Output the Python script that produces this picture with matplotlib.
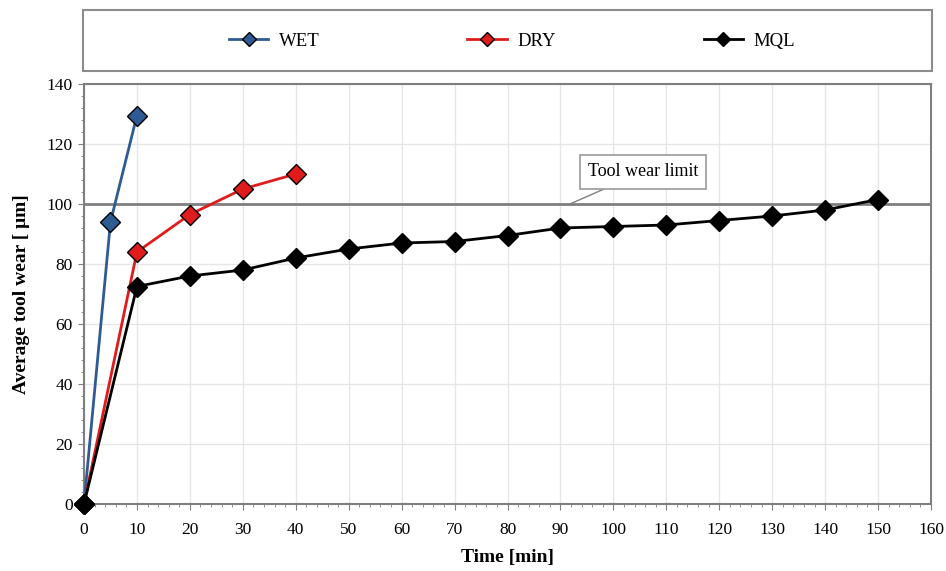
import matplotlib
matplotlib.use("Agg")
import matplotlib.pyplot as plt
from matplotlib.patches import Rectangle
from matplotlib.ticker import MultipleLocator

plt.rcParams["font.family"] = ["Liberation Serif", "DejaVu Serif"]

# data
wet_t = [0, 5, 10]
wet_w = [0, 94, 129.5]
dry_t = [0, 10, 20, 30, 40]
dry_w = [0, 84, 96.5, 105, 110]
mql_t = [0, 10, 20, 30, 40, 50, 60, 70, 80, 90, 100, 110, 120, 130, 140, 150]
mql_w = [0, 72.5, 76, 78, 82, 85, 87, 87.5, 89.5, 92, 92.5, 93, 94.5, 96, 98, 101.5]
wear_limit = 100

fig = plt.figure(figsize=(9.46, 5.71), dpi=100)
ax = fig.add_axes([84 / 946, 1 - 504 / 571, 847 / 946, 420 / 571])

ax.axhline(wear_limit, color="#7f7f7f", lw=2, zorder=2)

series = [
    ("WET", wet_t, wet_w, "#2f5b94"),
    ("DRY", dry_t, dry_w, "#e01b1b"),
    ("MQL", mql_t, mql_w, "black"),
]
handles = []
for name, t, w, c in series:
    ln, = ax.plot(t, w, color=c, lw=2, marker="D", markersize=10,
                  markerfacecolor=c, markeredgecolor="black", markeredgewidth=1,
                  label=name, zorder=3, clip_on=False)
    handles.append(ln)

ax.set_xlim(0, 160)
ax.set_ylim(0, 140)
ax.xaxis.set_major_locator(MultipleLocator(10))
ax.xaxis.set_minor_locator(MultipleLocator(2))
ax.yaxis.set_major_locator(MultipleLocator(20))
ax.yaxis.set_minor_locator(MultipleLocator(4))
ax.grid(True, which="major", color="#e6e6e6", lw=1, zorder=0)
ax.set_axisbelow(True)
for s in ax.spines.values():
    s.set_color("#7f7f7f")
    s.set_linewidth(1.5)
ax.tick_params(which="both", direction="out", colors="#7f7f7f", labelcolor="black",
               labelsize=12.5)
ax.tick_params(which="major", length=4)
ax.tick_params(which="minor", length=2.5)
ax.tick_params(axis="x", pad=9)
ax.tick_params(axis="y", pad=4)

ax.set_xlabel("Time [min]", fontsize=14, fontweight="bold", labelpad=8)
ax.set_ylabel("Average tool wear [ \u03bcm]", fontsize=14, fontweight="bold", labelpad=12)

ax.annotate("Tool wear limit", xy=(91.8, wear_limit), xytext=(105.6, 110.7),
            ha="center", va="center", fontsize=13,
            bbox=dict(boxstyle="square,pad=0.45", fc="white", ec="#9a9a9a", lw=1.2),
            arrowprops=dict(arrowstyle="-", color="#7f7f7f", lw=1,
                            shrinkA=0, shrinkB=0),
            zorder=5)

# legend box across the top
fig.patches.append(Rectangle((83 / 946, 1 - 71 / 571), 849 / 946, 61 / 571,
                             transform=fig.transFigure, fill=False,
                             ec="#8c8c8c", lw=1.5))
fig.legend(handles=handles, loc="center", ncol=3,
           bbox_to_anchor=(512 / 946, 1 - 41 / 571), frameon=False,
           fontsize=13.5, handlelength=2.1, handletextpad=0.55,
           columnspacing=7.9, markerscale=0.75)

fig.savefig("out.png", dpi=100)
